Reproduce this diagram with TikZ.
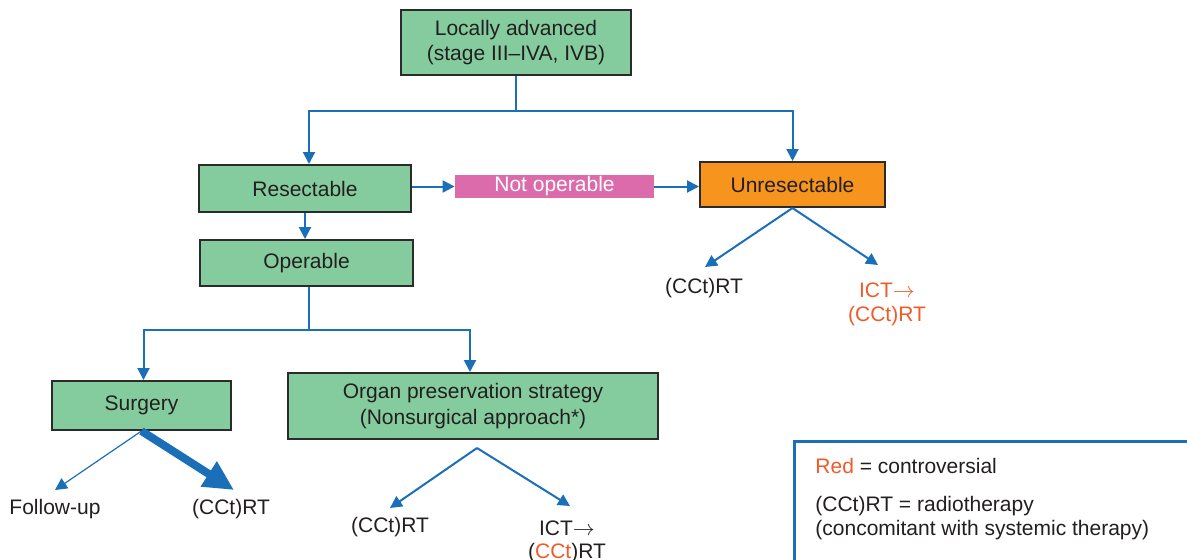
\documentclass[tikz,border=0pt]{standalone}
\usepackage{fontspec}
\setmainfont{Liberation Sans}
\usetikzlibrary{arrows.meta,calc}
\definecolor{boxgreen}{HTML}{84CC9D}
\definecolor{boxorange}{HTML}{F7941E}
\definecolor{boxpink}{HTML}{DB6BAA}
\definecolor{lineblue}{HTML}{1B6FB8}
\definecolor{txt}{HTML}{231F20}
\definecolor{redtxt}{HTML}{F15A29}
\definecolor{border}{HTML}{2B2B2B}
\begin{document}
\begin{tikzpicture}[x=0.5pt,y=-0.5pt,
  every node/.style={font=\fontsize{10.5}{12.5}\selectfont, text=txt, inner sep=0pt},
  gbox/.style={draw=border, line width=1pt, fill=boxgreen, align=center},
  conn/.style={draw=lineblue, line width=1pt},
  arr/.style={conn, -{Triangle[length=6pt,width=6pt]}},
  thinarr/.style={draw=lineblue, line width=0.6pt, -{Triangle[length=6pt,width=6pt]}},
  thickarr/.style={draw=lineblue, line width=4pt, -{Triangle[length=15pt,width=14pt]}},
  lbl/.style={align=center}
]
\useasboundingbox (0,0) rectangle (1187,559);
\clip (0,0) rectangle (1187,559);
\fill[white] (0,0) rectangle (1187,559);

% boxes
\node[gbox, minimum width=115pt, minimum height=32.5pt] (top) at (516,42.5)
  {Locally advanced\\(stage III–IVA, IVB)};
\node[gbox, minimum width=106pt, minimum height=23.5pt] (res) at (305,188.5) {Resectable};
\node[fill=boxpink, minimum width=99.5pt, minimum height=11.5pt, text=white] (notop) at (554.5,186.5) {\raisebox{-0.6pt}{Not operable}};
\node[draw=border, line width=1pt, fill=boxorange, minimum width=92.5pt, minimum height=22.5pt] (unres) at (792.5,184.5) {Unresectable};
\node[gbox, minimum width=106.5pt, minimum height=23pt] (op) at (306.5,263) {Operable};
\node[gbox, minimum width=89.5pt, minimum height=24.5pt] (surg) at (141.5,405.5) {Surgery};
\node[gbox, minimum width=185pt, minimum height=33pt, font=\fontsize{10.5}{13}\selectfont] (organ) at (473,406)
  {Organ preservation strategy\\(Nonsurgical approach*)};

% text labels
\node (u1) at (704,288) {(CCt)RT};
\node[lbl, text=redtxt, font=\fontsize{10.5}{12}\selectfont] (u2) at (887,304) {ICT$\rightarrow$\\(CCt)RT};
\node (s1) at (55,509) {Follow-up};
\node (s2) at (231,509) {(CCt)RT};
\node (o1) at (390,527) {(CCt)RT};
\node[lbl, font=\fontsize{10.5}{11.5}\selectfont] (o2) at (567,542) {ICT$\rightarrow$\\(\textcolor{redtxt}{CCt})RT};

% connector coordinates
\coordinate (j1) at (516,111);
\coordinate (j2) at (308.5,330);
\coordinate (tu1) at (705,267);
\coordinate (tu2) at (878,265);
\coordinate (ts1) at (55,490);
\coordinate (ts2) at (234,490);
\coordinate (to1) at (390,508);
\coordinate (to2) at (570,506);

% connectors
\draw[conn] (top.south) -- (j1);
\draw[arr] (j1) -| ([xshift=2pt]res.north);
\draw[arr] (j1) -| (unres.north);
\draw[arr] (res.east |- notop.west) -- (notop.west);
\draw[arr] (notop.east) -- (unres.west |- notop.east);
\draw[arr] (res.south) -- (res.south |- op.north);
\draw[conn] (j2 |- op.south) -- (j2);
\draw[arr] (j2) -| ([xshift=1pt]surg.north);
\draw[arr] (j2) -| ([xshift=-1.5pt]organ.north);
\draw[arr] (unres.south) -- (tu1);
\draw[arr] (unres.south) -- (tu2);
\draw[thinarr] (surg.south) -- (ts1);
\draw[thickarr] (surg.south) -- (ts2);
\draw[arr] ([xshift=2pt,yshift=-4pt]organ.south) -- (to1);
\draw[arr] ([xshift=2pt,yshift=-4pt]organ.south) -- (to2);

% legend
\draw[draw=lineblue, line width=1.5pt] (794,441) rectangle (1220,600);
\node[anchor=west] (leg1) at (815,466) {\textcolor{redtxt}{Red} = controversial};
\node[anchor=west, align=left, font=\fontsize{10.5}{12}\selectfont] (leg2) at (815,518)
  {(CCt)RT = radiotherapy\\(concomitant with systemic therapy)};
\end{tikzpicture}
\end{document}
